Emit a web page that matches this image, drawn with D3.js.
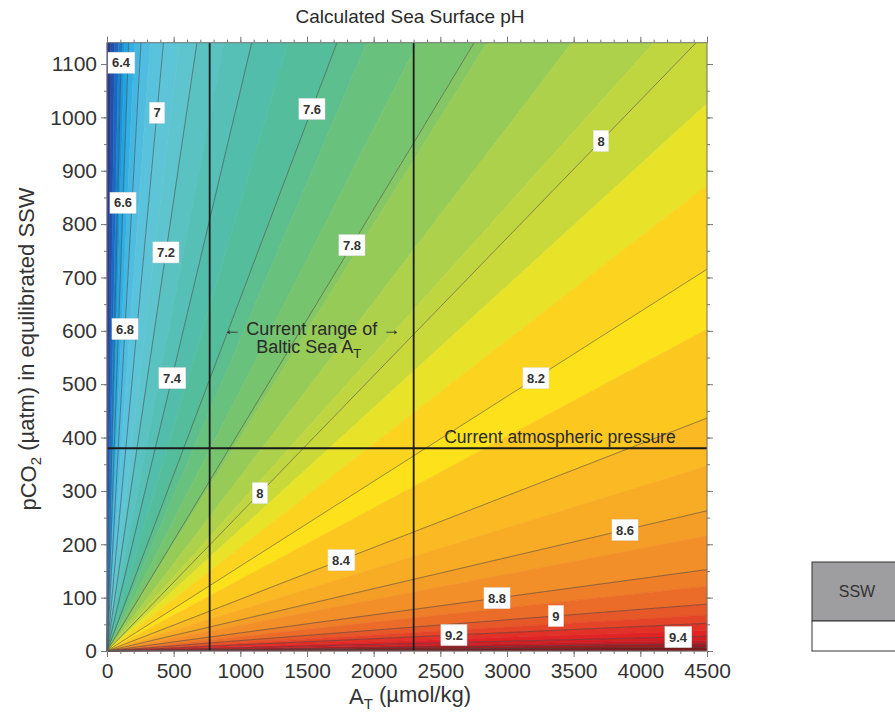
<!DOCTYPE html>
<html>
<head>
<meta charset="utf-8">
<script src="https://cdn.jsdelivr.net/npm/d3@7"></script>
<style>
  body { margin: 0; background: #fff; }
  svg { display: block; font-family: "Liberation Sans", Arial, sans-serif; }
</style>
</head>
<body>
<div id="chart"></div>
<script>
// pH contour lines - every one is a ray from the origin,
// kept as its slope (pCO2 / A_T)
const phLevels = [6.4, 6.6, 6.8, 7.0, 7.2, 7.4, 7.6, 7.8, 8.0, 8.2, 8.4, 8.6, 8.8, 9.0, 9.2, 9.4, 9.6, 9.8];
const phSlopes = [10.5, 7.0, 4.47, 2.69, 1.69, 1.05, 0.661, 0.414, 0.258, 0.159, 0.097, 0.0584, 0.0339, 0.0195, 0.0115, 0.0061, 0.003, 0.0015];

// contour labels: which line, and the A_T where the box sits
const labelPh = [6.4, 6.6, 6.8, 7, 7.2, 7.4, 7.6, 7.8, 8, 8, 8.2, 8.4, 8.6, 8.8, 9, 9.2, 9.4];
const labelAT = [105, 120, 135, 375, 442, 487, 1537, 1837, 3705, 1147, 3217, 1755, 3885, 2925, 3367, 2602, 4282];

// filled colour bands, steep ray -> flat ray (slopes), one colour per band
const bandEdges = [Infinity, 40, 20, 13, 10.5, 8.5, 7.0, 5.5, 4.47, 3.5, 2.69, 2.1, 1.69, 1.3, 1.05, 0.84,
  0.661, 0.585, 0.489, 0.414, 0.40, 0.327, 0.278, 0.258, 0.228, 0.194, 0.159, 0.134, 0.097, 0.077,
  0.0584, 0.048, 0.0339, 0.027, 0.0195, 0.015, 0.0115, 0.0085, 0.0061, 0.0045, 0.003, 0.0015, 0];
const bandColors = ["#2b3a8e", "#2250a8", "#1d68bf", "#1b82d0", "#1a96da", "#22a3df", "#32aee2", "#43b7e1",
  "#50bde0", "#59c2dc", "#5ec5d6", "#5ec4cd", "#5bc2c2", "#56c0b6", "#52bdaa", "#54bd9c",
  "#5dbf8e", "#69c17e", "#77c46e", "#84c764", "#97cb58", "#add14a", "#c0d640", "#cad93a",
  "#e8e228", "#fcd31f", "#fde21b", "#fcc820", "#fbba23", "#f8ab25", "#f59e27", "#f28f28",
  "#ee7e28", "#eb6c28", "#e75828", "#e44427", "#e23126", "#e02425", "#d61f25", "#c21d23",
  "#a31b20", "#7a1a1a"];

const balticRange = [770, 2300];   // A_T, µmol/kg
const atmosphericPCO2 = 380;       // µatm

const xTicks = [0, 500, 1000, 1500, 2000, 2500, 3000, 3500, 4000, 4500];
const yTicks = [0, 100, 200, 300, 400, 500, 600, 700, 800, 900, 1000, 1100];
const xMax = 4500, yMax = 1140;

const W = 895, H = 713;
const plotLeft = 107, plotRight = 707, plotTop = 42.7, plotBottom = 651;

const svg = d3.select("#chart").append("svg")
  .attr("width", W).attr("height", H);
svg.append("rect").attr("width", W).attr("height", H).attr("fill", "#fff");

const x = d3.scaleLinear().domain([0, xMax]).range([plotLeft, plotRight]);
const y = d3.scaleLinear().domain([0, yMax]).range([plotBottom, plotTop]);

// point where a ray of slope s leaves the plot box
function exitPoint(s) {
  if (s === Infinity) return [0, yMax];
  const a = Math.min(xMax, yMax / s);
  return [a, s * a];
}

// colour bands
const bands = bandColors.map((c, i) => {
  const p1 = exitPoint(bandEdges[i]), p2 = exitPoint(bandEdges[i + 1]);
  const pts = [[0, 0], p1];
  if (p1[1] >= yMax && p2[0] >= xMax && p2[1] < yMax) pts.push([xMax, yMax]);
  pts.push(p2);
  return { color: c, pts: pts };
});

svg.append("g").selectAll("path")
  .data(bands)
  .join("path")
    .attr("d", d => "M" + d.pts.map(p => [x(p[0]), y(p[1])].join(",")).join("L") + "Z")
    .attr("fill", d => d.color)
    .attr("stroke", d => d.color)
    .attr("stroke-width", 0.6);

// contour lines
svg.append("g").selectAll("line")
  .data(phSlopes)
  .join("line")
    .attr("x1", x(0)).attr("y1", y(0))
    .attr("x2", d => x(exitPoint(d)[0]))
    .attr("y2", d => y(exitPoint(d)[1]))
    .attr("stroke", "#444")
    .attr("stroke-opacity", 0.7)
    .attr("stroke-width", 0.8);

// reference lines
svg.append("g").selectAll("line")
  .data(balticRange)
  .join("line")
    .attr("x1", d => x(d)).attr("x2", d => x(d))
    .attr("y1", y(0)).attr("y2", y(yMax))
    .attr("stroke", "#1a1a1a").attr("stroke-width", 1.8);

svg.append("line")
  .attr("x1", x(0)).attr("x2", x(xMax))
  .attr("y1", y(atmosphericPCO2)).attr("y2", y(atmosphericPCO2))
  .attr("stroke", "#1a1a1a").attr("stroke-width", 1.8);

// contour labels
const labels = svg.append("g").selectAll("g")
  .data(labelPh.map((ph, i) => ({ ph: ph, at: labelAT[i], s: phSlopes[phLevels.indexOf(ph)] })))
  .join("g")
    .attr("transform", d => `translate(${x(d.at)},${y(d.s * d.at)})`);

labels.append("text")
  .attr("text-anchor", "middle")
  .attr("dy", "0.36em")
  .style("font-size", "13px")
  .style("font-weight", "bold")
  .attr("fill", "#333")
  .text(d => d.ph);

labels.each(function() {
  const g = d3.select(this);
  const b = g.select("text").node().getBBox();
  g.insert("rect", "text")
    .attr("x", b.x - 4).attr("y", -10.5)
    .attr("width", b.width + 8).attr("height", 21)
    .attr("fill", "#fff")
    .attr("stroke", "#ddd").attr("stroke-width", 0.5);
});

// annotations
const midBaltic = (balticRange[0] + balticRange[1]) / 2;
svg.append("text")
  .attr("x", x(midBaltic)).attr("y", y(592))
  .attr("text-anchor", "middle")
  .style("font-size", "18px").attr("fill", "#2a2a2a")
  .text("\u2190 Current range of \u2192");

const baltic = svg.append("text")
  .attr("x", x(midBaltic) - 3).attr("y", y(558))
  .attr("text-anchor", "middle")
  .style("font-size", "18px").attr("fill", "#2a2a2a");
baltic.append("tspan").text("Baltic Sea A");
baltic.append("tspan").attr("dy", "0.4em").style("font-size", "13px").text("T");

svg.append("text")
  .attr("x", x(3397)).attr("y", y(atmosphericPCO2) - 5)
  .attr("text-anchor", "middle")
  .style("font-size", "17.5px").attr("fill", "#2a2a2a")
  .text("Current atmospheric pressure");

// axes
function styleAxis(g) {
  g.select(".domain").remove();
  g.selectAll(".tick line").attr("stroke", "#777");
  g.selectAll(".tick text").attr("fill", "#333").style("font-size", "21px")
    .style("font-family", "'Liberation Sans', Arial, sans-serif");
}

const xMinor = d3.range(0, xMax + 1, 100);
const yMinor = d3.range(0, yMax + 1, 50);
const fmt = d3.format("d");

svg.append("g").attr("transform", `translate(0,${plotBottom})`)
  .call(d3.axisBottom(x).tickValues(xMinor).tickSize(3).tickFormat(""))
  .call(styleAxis);
svg.append("g").attr("transform", `translate(0,${plotBottom})`)
  .call(d3.axisBottom(x).tickValues(xTicks).tickSize(6).tickPadding(6).tickFormat(fmt))
  .call(styleAxis);

svg.append("g").attr("transform", `translate(0,${plotTop})`)
  .call(d3.axisTop(x).tickValues(xMinor).tickSize(3).tickFormat(""))
  .call(styleAxis);
svg.append("g").attr("transform", `translate(0,${plotTop})`)
  .call(d3.axisTop(x).tickValues(xTicks).tickSize(6).tickFormat(""))
  .call(styleAxis);

svg.append("g").attr("transform", `translate(${plotLeft},0)`)
  .call(d3.axisLeft(y).tickValues(yMinor).tickSize(3).tickFormat(""))
  .call(styleAxis);
svg.append("g").attr("transform", `translate(${plotLeft},0)`)
  .call(d3.axisLeft(y).tickValues(yTicks).tickSize(6).tickPadding(4).tickFormat(fmt))
  .call(styleAxis);

svg.append("g").attr("transform", `translate(${plotRight},0)`)
  .call(d3.axisRight(y).tickValues(yMinor).tickSize(3).tickFormat(""))
  .call(styleAxis);
svg.append("g").attr("transform", `translate(${plotRight},0)`)
  .call(d3.axisRight(y).tickValues(yTicks).tickSize(6).tickFormat(""))
  .call(styleAxis);

// frame
svg.append("rect")
  .attr("x", plotLeft).attr("y", plotTop)
  .attr("width", plotRight - plotLeft).attr("height", plotBottom - plotTop)
  .attr("fill", "none").attr("stroke", "#777").attr("stroke-width", 1);

// titles
svg.append("text")
  .attr("x", 410).attr("y", 23)
  .attr("text-anchor", "middle")
  .style("font-size", "19px").attr("fill", "#2a2a2a")
  .text("Calculated Sea Surface pH");

const xTitle = svg.append("text")
  .attr("x", 410).attr("y", 704)
  .attr("text-anchor", "middle")
  .style("font-size", "22px").attr("fill", "#333");
xTitle.append("tspan").text("A");
xTitle.append("tspan").attr("dy", "0.3em").style("font-size", "15px").text("T");
xTitle.append("tspan").attr("dy", "-0.3em").text(" (\u00b5mol/kg)");

const yTitle = svg.append("text")
  .attr("transform", `translate(36,349) rotate(-90)`)
  .attr("text-anchor", "middle")
  .style("font-size", "22px").attr("fill", "#333");
yTitle.append("tspan").text("pCO");
yTitle.append("tspan").attr("dy", "0.3em").style("font-size", "15px").text("2");
yTitle.append("tspan").attr("dy", "-0.3em").text(" (\u00b5atm) in equilibrated SSW");

// SSW key box, cut off at the right edge
svg.append("rect")
  .attr("x", 812).attr("y", 562).attr("width", 100).attr("height", 59)
  .attr("fill", "#9e9ea0").attr("stroke", "#333").attr("stroke-width", 1);
svg.append("rect")
  .attr("x", 812).attr("y", 621).attr("width", 100).attr("height", 30)
  .attr("fill", "#fff").attr("stroke", "#333").attr("stroke-width", 1);
svg.append("text")
  .attr("x", 857).attr("y", 597)
  .attr("text-anchor", "middle")
  .style("font-size", "16px").attr("fill", "#333")
  .text("SSW");
</script>
</body>
</html>
